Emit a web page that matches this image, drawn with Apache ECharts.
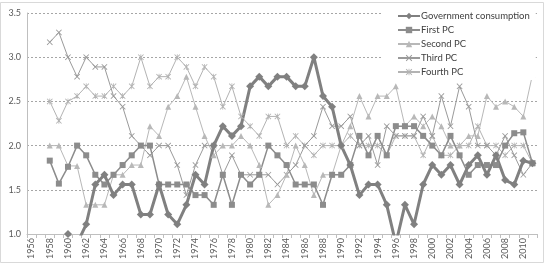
<!DOCTYPE html>
<html>
<head>
<meta charset="utf-8">
<script src="https://cdn.jsdelivr.net/npm/echarts@6/dist/echarts.min.js"></script>
<style>
  html, body { margin: 0; padding: 0; background: #fff; }
  #chart { width: 547px; height: 265px; }
</style>
</head>
<body>
<div id="chart"></div>
<script>
// years on the category axis
const years = [
  '1956', '1957', '1958', '1959', '1960', '1961', '1962', '1963', '1964', '1965',
  '1966', '1967', '1968', '1969', '1970', '1971', '1972', '1973', '1974', '1975',
  '1976', '1977', '1978', '1979', '1980', '1981', '1982', '1983', '1984', '1985',
  '1986', '1987', '1988', '1989', '1990', '1991', '1992', '1993', '1994', '1995',
  '1996', '1997', '1998', '1999', '2000', '2001', '2002', '2003', '2004', '2005',
  '2006', '2007', '2008', '2009', '2010', '2011',
]

const govConsumption = [
  null, null, null, null, 1.0, 0.89, 1.11, 1.56, 1.67, 1.44,
  1.56, 1.56, 1.22, 1.22, 1.56, 1.22, 1.11, 1.33, 1.67, 1.56,
  2.0, 2.22, 2.11, 2.22, 2.67, 2.78, 2.67, 2.78, 2.78, 2.67,
  2.67, 3.0, 2.56, 2.44, 2.0, 1.78, 1.44, 1.56, 1.56, 1.33,
  0.89, 1.33, 1.11, 1.56, 1.78, 1.67, 1.78, 1.56, 1.78, 1.89,
  1.67, 1.89, 1.61, 1.56, 1.83, 1.8,
]

const firstPC = [
  null, null, 1.83, 1.57, 1.76, 2.0, 1.89, 1.67, 1.56, 1.67,
  1.78, 1.89, 2.0, 2.0, 1.56, 1.56, 1.56, 1.56, 1.44, 1.44,
  1.33, 1.67, 1.33, 1.67, 1.56, 1.67, 2.0, 1.89, 1.78, 1.56,
  1.56, 1.56, 1.33, 1.67, 1.67, 1.78, 2.11, 1.89, 2.11, 1.89,
  2.22, 2.22, 2.22, 2.11, 2.0, 1.89, 2.11, 1.89, 1.67, 1.78,
  1.78, 1.78, 2.0, 2.14, 2.15, 1.8,
]

const secondPC = [
  null, null, 2.0, 2.0, 1.77, 1.77, 1.33, 1.33, 1.33, 1.67,
  1.67, 1.78, 1.78, 2.22, 2.11, 2.44, 2.56, 2.78, 2.44, 2.11,
  1.89, 2.0, 2.0, 2.11, 2.0, 1.78, 1.33, 1.44, 1.67, 2.0,
  1.78, 1.44, 1.67, 1.67, 2.0, 2.22, 2.56, 2.33, 2.56, 2.56,
  2.67, 2.22, 2.33, 2.22, 2.33, 2.22, 2.0, 2.0, 2.11, 2.11,
  2.56, 2.44, 2.5, 2.44, 2.33, 2.8,
]

const thirdPC = [
  null, null, 3.17, 3.28, 3.0, 2.78, 3.0, 2.89, 2.89, 2.56,
  2.44, 2.11, 2.0, 1.89, 2.0, 2.0, 1.78, 1.44, 1.78, 2.0,
  2.0, 1.67, 1.89, 1.67, 1.67, 1.67, 1.67, 1.56, 1.67, 1.78,
  2.0, 2.11, 2.44, 2.22, 2.22, 2.33, 2.0, 2.11, 1.78, 2.22,
  2.11, 2.11, 2.11, 2.33, 2.11, 2.56, 2.22, 2.67, 2.44, 2.0,
  2.0, 1.89, 2.11, 1.89, 1.67, 1.8,
]

const fourthPC = [
  null, null, 2.5, 2.28, 2.5, 2.56, 2.67, 2.56, 2.56, 2.67,
  2.56, 2.67, 3.0, 2.67, 2.78, 2.78, 3.0, 2.89, 2.67, 2.89,
  2.78, 2.44, 2.67, 2.33, 2.22, 2.11, 2.33, 2.33, 2.0, 2.11,
  2.0, 1.89, 2.0, 2.0, 2.0, 2.11, 2.0, 2.0, 2.0, 1.89,
  2.11, 2.11, 2.11, 1.89, 2.11, 1.89, 1.89, 2.0, 2.0, 2.22,
  2.0, 2.0, 1.89, 2.0, 2.0, 1.8,
]

const seriesNames = ['Government consumption', 'First PC', 'Second PC', 'Third PC', 'Fourth PC']

// x and asterisk markers drawn as filled outlines
const crossPath = 'path://M0,1L1,0L5,4L9,0L10,1L6,5L10,9L9,10L5,6L1,10L0,9L4,5Z'
const starPath = 'path://M0,1L1,0L5,4L9,0L10,1L6,5L10,9L9,10L5,6L1,10L0,9L4,5ZM4.4,0L5.6,0L5.6,10L4.4,10Z'

const font = 'Lato, "Open Sans", sans-serif'

function lineSeries(name, data, color, width, symbol, size) {
  return {
    name,
    type: 'line',
    data,
    symbol,
    symbolSize: size,
    showAllSymbol: true,
    lineStyle: { color, width },
    itemStyle: { color },
    emphasis: { disabled: true },
    animation: false,
  }
}

const chart = echarts.init(document.getElementById('chart'))

chart.setOption({
  backgroundColor: '#fff',
  textStyle: { fontFamily: font },
  grid: { left: 27, right: 10, top: 13, bottom: 31 },
  graphic: [
    {
      type: 'rect',
      shape: { x: 0.5, y: 2.5, width: 543, height: 260 },
      style: { fill: 'none', stroke: '#d9d9d9', lineWidth: 1 },
      silent: true,
    },
  ],
  legend: {
    orient: 'vertical',
    left: 382,
    top: 8,
    padding: [3, 6, 3, 15],
    backgroundColor: '#fff',
    itemWidth: 22,
    itemHeight: 8,
    itemGap: 4,
    data: seriesNames,
    textStyle: { fontSize: 9.5, color: '#404040', fontFamily: font, padding: [0, 0, 0, -4] },
  },
  xAxis: {
    type: 'category',
    data: years,
    boundaryGap: true,
    axisLine: { lineStyle: { color: '#bfbfbf' } },
    axisTick: { show: true, interval: 0, length: 4, lineStyle: { color: '#bfbfbf' } },
    axisLabel: {
      interval: 1,
      rotate: 90,
      fontSize: 9,
      color: '#595959',
      margin: 4,
      fontFamily: font,
    },
    splitLine: { show: false },
  },
  yAxis: {
    type: 'value',
    min: 1,
    max: 3.5,
    interval: 0.5,
    axisLine: { show: true, lineStyle: { color: '#bfbfbf' } },
    axisTick: { show: false },
    axisLabel: {
      fontSize: 9,
      color: '#595959',
      margin: 6,
      fontFamily: font,
      formatter: (v) => v.toFixed(1),
    },
    splitLine: { lineStyle: { color: '#a6a6a6', type: [2, 2], width: 1 } },
  },
  series: [
    lineSeries(seriesNames[4], fourthPC, '#b3b3b3', 1, starPath, 6),
    lineSeries(seriesNames[3], thirdPC, '#9a9a9a', 1, crossPath, 6),
    lineSeries(seriesNames[2], secondPC, '#b8b8b8', 1, 'triangle', 6),
    lineSeries(seriesNames[1], firstPC, '#8c8c8c', 1.5, 'rect', 6),
    lineSeries(seriesNames[0], govConsumption, '#808080', 3, 'diamond', 8),
  ],
})
</script>
</body>
</html>
